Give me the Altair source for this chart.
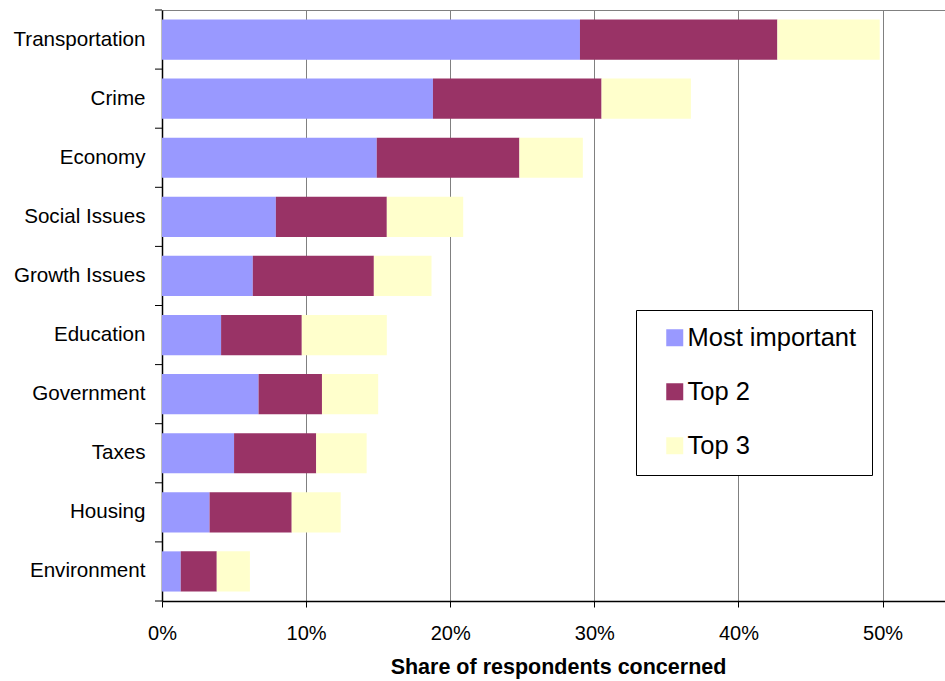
import altair as alt
import pandas as pd

# Issues, top to bottom
issues = ["Transportation", "Crime", "Economy", "Social Issues", "Growth Issues",
          "Education", "Government", "Taxes", "Housing", "Environment"]

# Share of respondents (%) per ranking level, stacked left to right
most_important = [29.0, 18.8, 14.9, 7.9, 6.3, 4.1, 6.7, 5.0, 3.3, 1.3]
top_2 = [13.7, 11.7, 9.9, 7.7, 8.4, 5.6, 4.4, 5.7, 5.7, 2.5]
top_3 = [7.1, 6.2, 4.4, 5.3, 4.0, 5.9, 3.9, 3.5, 3.4, 2.3]

series = ["Most important", "Top 2", "Top 3"]
colors = ["#9999FF", "#993366", "#FFFFCC"]
x_ticks = [0, 10, 20, 30, 40, 50]

rows = []
for rank, (name, vals) in enumerate(zip(series, [most_important, top_2, top_3])):
    for issue, v in zip(issues, vals):
        rows.append({"issue": issue, "series": name, "share": v, "rank": rank})
df = pd.DataFrame(rows)
issue_df = pd.DataFrame({"issue": issues})

FONT = "Liberation Sans"
PAD_IN = 0.32
STEP = 591 / len(issues)
HALF_GAP = PAD_IN * STEP / 2

y_scale = alt.Scale(paddingInner=PAD_IN, paddingOuter=PAD_IN / 2)

bars = alt.Chart(df).mark_bar().encode(
    x=alt.X(
        "share:Q",
        stack="zero",
        scale=alt.Scale(domain=[0, 54.33], nice=False, zero=True),
        axis=alt.Axis(
            values=x_ticks,
            labelExpr="datum.value + '%'",
            title="Share of respondents concerned",
            titleFont=FONT, titleFontSize=21.5, titleFontWeight="bold",
            titleColor="black", titlePadding=13, titleX=396,
            labelFont=FONT, labelFontSize=20, labelColor="black",
            labelPadding=16, labelFlush=False, labelOverlap=False,
            tickSize=6, tickColor="black",
            domainColor="black", domainWidth=1.5,
            grid=True, gridColor="#808080", gridWidth=1,
        ),
    ),
    y=alt.Y(
        "issue:N",
        sort=issues,
        scale=y_scale,
        axis=alt.Axis(
            title=None, ticks=False, tickSize=0, grid=False,
            labelFont=FONT, labelFontSize=20.6, labelColor="black",
            labelPadding=17, domainColor="black", domainWidth=1.5,
        ),
    ),
    color=alt.Color(
        "series:N",
        scale=alt.Scale(domain=series, range=colors),
        legend=alt.Legend(
            title=None, orient="none", legendX=474, legendY=300,
            labelFont=FONT, labelFontSize=25.5, labelColor="black",
            labelLimit=0,
            symbolType="square", symbolSize=289, symbolStrokeWidth=0,
            symbolOffset=11, labelOffset=0,
            padding=15, rowPadding=27,
            strokeColor="black", fillColor="white",
        ),
    ),
    order=alt.Order("rank:Q"),
)

# Category ticks sitting on the band boundaries of the y axis
ticks_below = alt.Chart(issue_df).mark_rule(
    color="black", strokeWidth=1, yOffset=HALF_GAP
).encode(
    y=alt.Y("issue:N", sort=issues, bandPosition=1),
    x=alt.value(-7),
    x2=alt.value(0),
)
ticks_top = alt.Chart(issue_df.head(1)).mark_rule(
    color="black", strokeWidth=1, yOffset=-HALF_GAP
).encode(
    y=alt.Y("issue:N", sort=issues, bandPosition=0),
    x=alt.value(-7),
    x2=alt.value(0),
)

chart = (
    alt.layer(bars, ticks_below, ticks_top)
    .properties(
        width=783,
        height=591,
        autosize=alt.AutoSizeParams(type="none"),
        padding={"left": 162, "top": 10, "right": 0, "bottom": 80},
        background="white",
    )
    .configure_view(stroke="#808080", strokeWidth=1)
)

chart.save("out.html", embed_options={"renderer": "svg", "actions": False})
